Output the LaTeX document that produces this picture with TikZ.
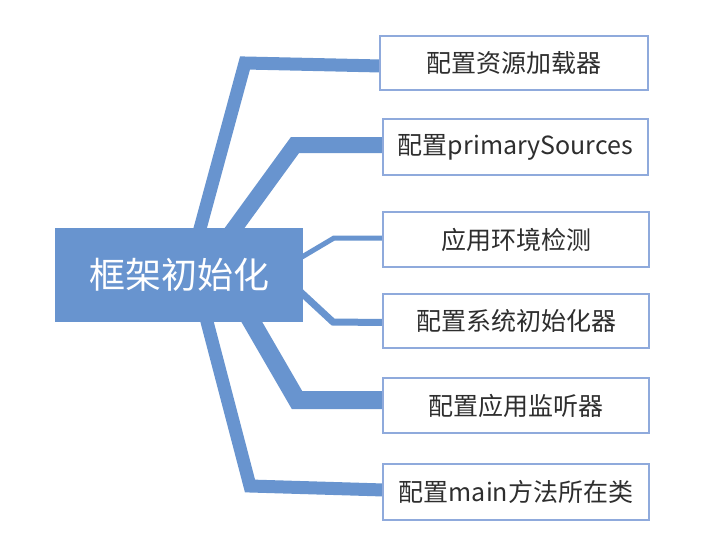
\documentclass[tikz,border=0pt]{standalone}
\usepackage{fontspec}
\newfontfamily\cjk{Noto Sans CJK SC}
\definecolor{mainblue}{HTML}{6894CF}
\definecolor{boxblue}{HTML}{8FAADC}
\definecolor{txt}{HTML}{2E2E2E}
\pgfdeclarelayer{bg}
\pgfdeclarelayer{paper}
\pgfsetlayers{paper,bg,main}
\begin{document}
\begin{tikzpicture}[x=1pt,y=-1pt,
  conn/.style={draw=mainblue, line join=miter, miter limit=10},
  leaf/.style={draw=boxblue, line width=1.5pt, fill=white, minimum width=266pt, minimum height=55pt, inner sep=0pt, font=\cjk\fontsize{25}{30}\selectfont, text=txt},
  root/.style={fill=mainblue, minimum width=248pt, minimum height=94pt, inner sep=0pt, font=\cjk\fontsize{36}{40}\selectfont, text=white}]
\begin{pgfonlayer}{paper}
\fill[white] (0,0) rectangle (711,549);
\end{pgfonlayer}
\useasboundingbox (0,0) rectangle (711,549);
\node[root] (main) at (179,275) {框架初始化};
\node[leaf, minimum width=268pt, minimum height=54pt] (b1) at (514,63) {配置资源加载器};
\node[leaf, minimum width=265pt, minimum height=56pt] (b2) at (515.5,147) {配置primarySources};
\node[leaf] (b3) at (516,239.5) {应用环境检测};
\node[leaf, minimum height=54pt] (b4) at (516,321) {配置系统初始化器};
\node[leaf] (b5) at (516,405.5) {配置应用监听器};
\node[leaf, minimum height=56pt] (b6) at (516,492) {配置main方法所在类};
\begin{pgfonlayer}{bg}
\draw[conn, line width=13pt] ([shift={(18,12)}]main.north) -- (245,63) -- ([shift={(2,3)}]b1.west);
\draw[conn, line width=16pt] ([shift={(47,12)}]main.north) -- (295,145) -- ([shift={(2,-2)}]b2.west);
\draw[conn, line width=5pt] ([shift={(-8,-14)}]main.east) -- (334,238) -- ([shift={(2,-1.5)}]b3.west);
\draw[conn, line width=7pt] ([shift={(-8,12)}]main.east) -- (333,322) -- ([shift={(2,1.5)}]b4.west);
\draw[conn, line width=18pt] ([shift={(66,-12)}]main.south) -- (297,400) -- ([shift={(2,-5.5)}]b5.west);
\draw[conn, line width=13pt] ([shift={(25,-12)}]main.south) -- (250,486) -- ([shift={(2,-2)}]b6.west);
\end{pgfonlayer}
\end{tikzpicture}
\end{document}
